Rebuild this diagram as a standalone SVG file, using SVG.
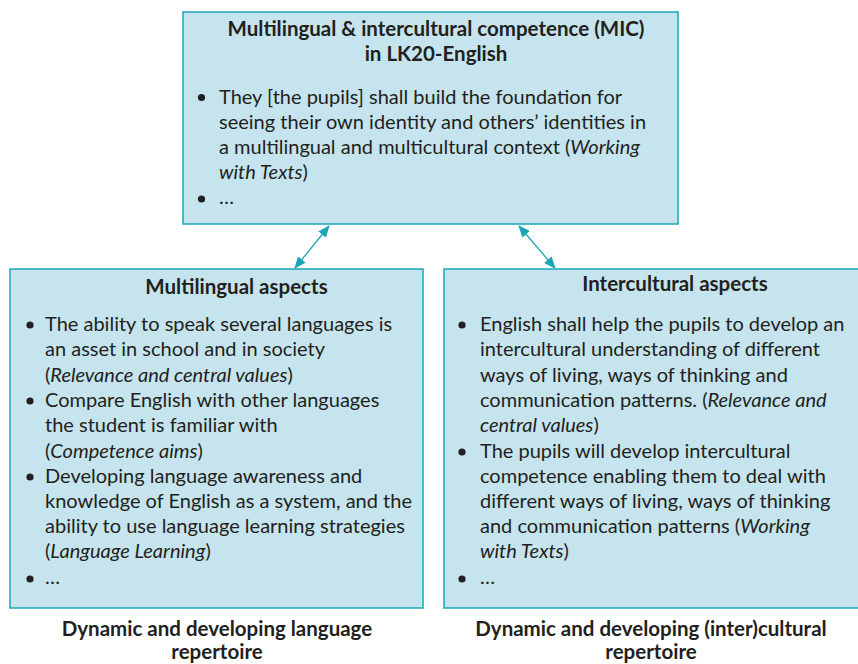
<svg xmlns="http://www.w3.org/2000/svg" width="858" height="664" viewBox="0 0 858 664">
  <style>
    .box { fill: #c5e4ed; stroke: #1ba6b8; stroke-width: 1.5; }
    text { font-family: Lato, "Open Sans", "Liberation Sans", sans-serif; font-size: 20px; fill: #231f20; }
    .title { font-weight: bold; font-size: 20.5px; text-anchor: middle; }
    .it { font-style: italic; }
    .dot { fill: #231f20; }
    .link { stroke: #1ba6b8; stroke-width: 1.3; fill: none; marker-start: url(#head); marker-end: url(#head); }
  </style>
  <defs>
    <marker id="head" viewBox="0 0 12 10" refX="11" refY="5" markerWidth="12" markerHeight="10" markerUnits="userSpaceOnUse" orient="auto-start-reverse">
      <path d="M0,0 L12,5 L0,10 Z" fill="#1ba6b8"/>
    </marker>
  </defs>

  <rect width="858" height="664" fill="#ffffff"/>

  <g id="connectors">
    <line class="link" x1="295" y1="268" x2="329" y2="226"/>
    <line class="link" x1="555" y1="268" x2="519" y2="226"/>
  </g>

  <g id="mic">
    <rect class="box" x="183" y="12" width="495" height="212"/>
    <text class="title" x="436" y="36">Multilingual &amp; intercultural competence (MIC)</text>
    <text class="title" x="436" y="61">in LK20-English</text>
    <circle class="dot" cx="201.5" cy="97.5" r="3.6"/>
    <text x="219" y="103.5">They [the pupils] shall build the foundation for</text>
    <text x="219" y="129">seeing their own identity and others’ identities in</text>
    <text x="219" y="154">a multilingual and multicultural context (<tspan class="it">Working</tspan></text>
    <text x="219" y="179"><tspan class="it">with Texts</tspan>)</text>
    <circle class="dot" cx="201.5" cy="199" r="3.6"/>
    <text x="219" y="204">…</text>
  </g>

  <g id="multilingual">
    <rect class="box" x="10" y="269" width="413" height="339"/>
    <text class="title" x="236.5" y="294">Multilingual aspects</text>
    <circle class="dot" cx="30" cy="325" r="3.6"/>
    <text x="45" y="331">The ability to speak several languages is</text>
    <text x="45" y="356">an asset in school and in society</text>
    <text x="45" y="381.5">(<tspan class="it">Relevance and central values</tspan>)</text>
    <circle class="dot" cx="30" cy="401" r="3.6"/>
    <text x="45" y="407">Compare English with other languages</text>
    <text x="45" y="432">the student is familiar with</text>
    <text x="45" y="457.5">(<tspan class="it">Competence aims</tspan>)</text>
    <circle class="dot" cx="30" cy="477" r="3.6"/>
    <text x="45" y="483">Developing language awareness and</text>
    <text x="45" y="508">knowledge of English as a system, and the</text>
    <text x="45" y="533">ability to use language learning strategies</text>
    <text x="45" y="558">(<tspan class="it">Language Learning</tspan>)</text>
    <circle class="dot" cx="30" cy="579" r="3.6"/>
    <text x="45" y="584">…</text>
  </g>

  <g id="intercultural">
    <rect class="box" x="444" y="269" width="420" height="339"/>
    <text class="title" x="675" y="291">Intercultural aspects</text>
    <circle class="dot" cx="462" cy="325" r="3.6"/>
    <text x="480" y="331">English shall help the pupils to develop an</text>
    <text x="480" y="356">intercultural understanding of different</text>
    <text x="480" y="381.5">ways of living, ways of thinking and</text>
    <text x="480" y="407">communication patterns. (<tspan class="it">Relevance and</tspan></text>
    <text x="480" y="432"><tspan class="it">central values</tspan>)</text>
    <circle class="dot" cx="462" cy="452" r="3.6"/>
    <text x="480" y="458">The pupils will develop intercultural</text>
    <text x="480" y="483">competence enabling them to deal with</text>
    <text x="480" y="508">different ways of living, ways of thinking</text>
    <text x="480" y="533">and communication patterns (<tspan class="it">Working</tspan></text>
    <text x="480" y="558"><tspan class="it">with Texts</tspan>)</text>
    <circle class="dot" cx="462" cy="579" r="3.6"/>
    <text x="480" y="584">…</text>
  </g>

  <g id="captions">
    <text class="title" x="217" y="636">Dynamic and developing language</text>
    <text class="title" x="217" y="659">repertoire</text>
    <text class="title" x="651" y="636">Dynamic and developing (inter)cultural</text>
    <text class="title" x="651" y="659">repertoire</text>
  </g>
</svg>
